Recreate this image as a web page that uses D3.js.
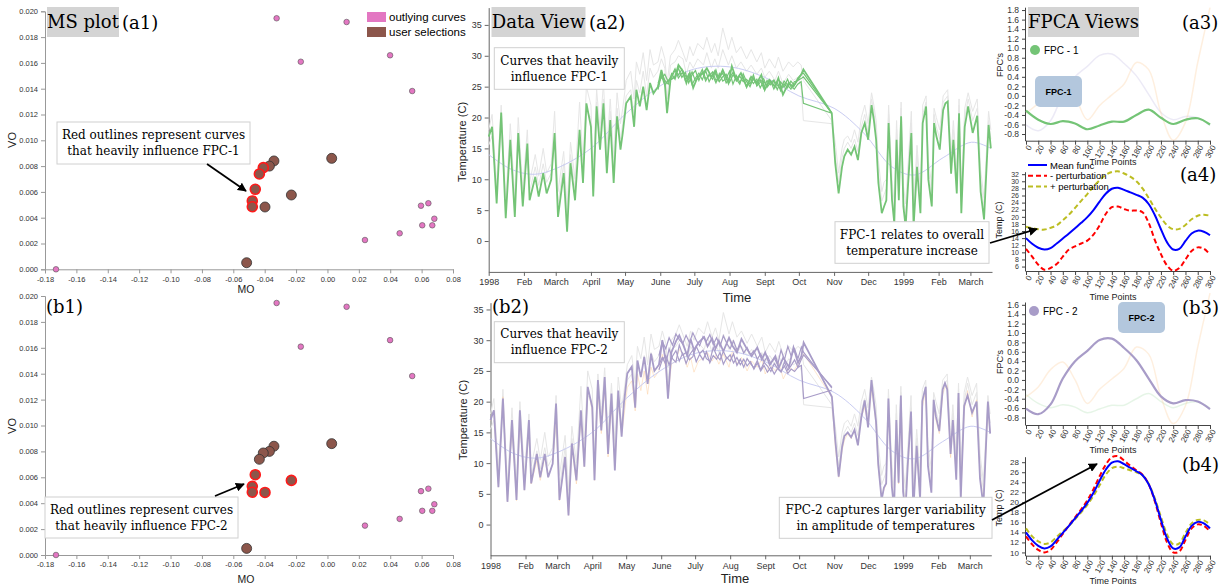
<!DOCTYPE html>
<html>
<head>
<meta charset="utf-8">
<script src="https://cdn.jsdelivr.net/npm/d3@7"></script>
<style>
  body { margin: 0; background: #fff; }
  svg { display: block; }
</style>
</head>
<body>
<div id="container"></div>
<script>
// ---------------- DATA ----------------
// MS plot: outlying curves (pink) and user selections (brown)
var outlyingMO = [-0.173, -0.0324, 0.0122, -0.017, 0.0399, 0.054, 0.0596, 0.0643, 0.0681, 0.0604, 0.0668, 0.046, 0.0239];
var outlyingVO = [0.0000, 0.01946, 0.01917, 0.01609, 0.01659, 0.01382, 0.00493, 0.00512, 0.00392, 0.00341, 0.00341, 0.00279, 0.00227];
var selectedMO = [-0.0341, -0.037, -0.0409, -0.0434, -0.046, -0.0479, -0.0479, -0.0398, -0.023, 0.0027, -0.0515];
var selectedVO = [0.0084, 0.0080, 0.00788, 0.00739, 0.0062, 0.0053, 0.00485, 0.00483, 0.00576, 0.0086, 0.00051];
var fpc1Influential = [2, 3, 4, 5, 6];
var fpc2Influential = [4, 5, 6, 7, 8];

// Data view: day index since 1 Jan 1998
var tempDays = [0, 3, 7, 11, 15, 19, 23, 26, 30, 34, 36, 41, 44, 48, 51, 55, 58, 61, 66, 69,
  72, 76, 80, 83, 86, 90, 92, 95, 98, 101, 104, 107, 110, 113, 116, 118, 121, 125, 128, 130,
  133, 136, 139, 142, 145, 149, 152, 155, 157, 160, 164, 167, 171, 174, 177, 180, 184, 189, 192, 196,
  199, 202, 206, 211, 214, 218, 222, 227, 231, 236, 240, 243, 247, 252, 255, 259, 264, 268, 272, 275,
  277, 302, 305, 308, 311, 313, 316, 319, 322, 325, 328, 331, 334, 337, 339, 341, 343, 346, 348, 350,
  352, 355, 357, 359, 361, 363, 365, 367, 369, 372, 374, 377, 380, 382, 385, 387, 390, 392, 394, 397,
  400, 402, 404, 407, 409, 412, 414, 416, 419, 422, 426, 430, 433, 436, 440, 442];
var fpc1Temps = [16.9, 18.5, 6.1, 20.8, 3.7, 16.4, 3.9, 17.5, 5.6, 15.8, 6.6, 10.4, 7.2, 11.0, 7.7, 9.9, 17.5, 3.9, 11.0, 1.5,
  12.6, 6.6, 18.0, 9.4, 22.3, 18.5, 7.2, 21.8, 14.8, 22.3, 11.0, 19.6, 9.4, 20.2, 14.8, 17.5, 22.3, 23.4, 18.5, 24.5,
  21.8, 25.0, 21.2, 25.6, 23.9, 25.0, 27.7, 25.6, 20.7, 26.1, 26.6, 28.5, 27.5, 25.6, 27.2, 24.8, 26.6, 27.2, 28.0, 26.6,
  27.5, 26.1, 27.7, 25.6, 28.3, 26.1, 27.2, 25.0, 26.6, 25.6, 26.9, 24.5, 26.1, 25.0, 26.4, 23.7, 25.6, 25.0, 26.1, 26.9,
  27.8, 20.7, 12.6, 7.7, 12.0, 13.7, 14.8, 14.0, 15.3, 13.1, 17.5, 19.1, 16.4, 22.0, 19.6, 16.4, 9.4, 4.5, 5.6, 6.6,
  19.1, 6.6, 2.9, 16.4, 6.6, 20.2, 5.6, 2.3, 8.8, 17.5, 2.3, 12.0, 4.5, 19.1, 21.8, 9.9, 5.6, 19.1, 17.0, 14.8,
  21.2, 22.3, 22.6, 10.9, 16.4, 7.7, 20.7, 4.5, 18.5, 21.8, 17.5, 20.3, 8.0, 3.5, 18.8, 15.0];
var fpc2Temps = [17.0, 18.6, 6.1, 20.5, 3.7, 17.0, 4.0, 18.6, 5.6, 17.0, 6.7, 11.5, 7.7, 11.5, 7.7, 9.9, 19.7, 4.0, 11.0, 1.5,
  13.2, 7.2, 18.6, 9.4, 22.4, 19.1, 7.2, 23.5, 15.3, 24.0, 11.5, 21.3, 8.8, 21.8, 14.3, 19.7, 24.6, 25.7, 19.0, 26.7,
  24.0, 27.3, 22.9, 27.8, 25.0, 26.0, 30.0, 26.5, 20.5, 28.0, 29.8, 30.8, 29.0, 27.5, 30.2, 28.4, 29.6, 30.5, 29.0, 30.3,
  28.6, 29.9, 28.2, 30.4, 29.1, 28.0, 30.2, 28.5, 27.4, 28.8, 26.9, 28.0, 26.0, 27.4, 25.5, 27.2, 25.6, 28.8, 26.3, 27.4,
  29.6, 20.8, 13.7, 7.8, 12.6, 14.4, 15.0, 14.2, 15.4, 12.9, 17.4, 20.2, 15.8, 23.5, 20.0, 16.8, 9.8, 4.0, 6.0, 6.7,
  20.5, 6.2, 2.5, 17.0, 6.8, 21.0, 5.3, 2.0, 9.4, 18.4, 2.0, 12.8, 4.1, 20.1, 22.4, 9.5, 5.2, 20.3, 17.6, 15.2,
  22.0, 23.0, 22.0, 11.5, 17.0, 7.3, 21.4, 4.2, 19.3, 21.0, 18.2, 20.0, 7.5, 3.0, 20.0, 14.8];
var grayTemps1 = [18.0, 20.5, 9.0, 22.0, 6.5, 19.0, 7.0, 20.0, 8.5, 18.0, 9.5, 14.0, 10.5, 15.0, 11.0, 12.5, 21.0, 8.0, 14.5, 5.5,
  16.0, 10.0, 22.5, 13.0, 25.0, 22.0, 11.0, 24.5, 18.0, 25.5, 15.0, 23.0, 13.5, 24.0, 19.0, 21.5, 26.0, 27.5, 23.0, 29.0,
  27.0, 30.5, 26.0, 31.0, 28.5, 29.0, 31.5, 29.5, 25.5, 30.0, 31.0, 32.5, 30.5, 29.0, 31.5, 30.0, 32.0, 31.0, 33.0, 30.5,
  32.0, 30.0, 34.5, 31.0, 33.0, 30.5, 31.5, 29.5, 31.0, 29.0, 30.5, 28.0, 29.5, 28.0, 29.8, 27.5, 29.0, 28.2, 29.0, 28.5,
  26.0, 19.5, 16.0, 11.0, 15.0, 16.5, 17.0, 16.0, 18.0, 16.0, 20.0, 22.0, 19.0, 24.0, 22.0, 19.5, 13.0, 8.0, 9.5, 10.0,
  22.0, 10.0, 6.0, 19.5, 10.0, 22.5, 9.0, 6.0, 12.0, 21.0, 6.0, 15.5, 8.0, 22.0, 23.5, 13.0, 9.0, 21.5, 20.0, 18.0,
  23.5, 24.0, 24.5, 14.0, 19.5, 11.0, 23.0, 8.0, 21.5, 24.0, 21.0, 23.0, 11.5, 7.0, 21.0, 18.0];
var grayTemps2 = [15.5, 17.0, 8.0, 19.0, 5.5, 15.0, 6.0, 16.5, 7.0, 14.5, 8.0, 12.0, 9.0, 12.5, 9.5, 11.0, 16.0, 6.0, 12.5, 4.0,
  14.0, 8.5, 17.0, 11.0, 21.0, 20.0, 9.5, 22.5, 16.5, 23.0, 13.0, 21.0, 11.5, 21.5, 16.5, 19.0, 23.5, 24.5, 20.5, 26.0,
  24.0, 27.5, 23.5, 28.0, 26.5, 27.5, 29.5, 28.0, 23.0, 28.5, 29.0, 30.0, 29.5, 27.0, 29.0, 28.0, 29.5, 28.5, 30.5, 28.0,
  29.5, 28.0, 31.0, 28.5, 30.0, 28.0, 29.0, 27.5, 28.5, 27.0, 28.0, 26.5, 27.5, 26.0, 27.5, 25.5, 27.0, 26.0, 26.5, 25.0,
  19.5, 19.0, 14.0, 9.5, 13.5, 15.0, 16.0, 15.0, 16.5, 14.5, 18.5, 20.5, 17.5, 23.0, 21.0, 18.0, 11.0, 6.5, 7.5, 8.5,
  20.5, 8.0, 4.5, 18.0, 8.5, 21.5, 7.0, 4.0, 10.5, 19.0, 4.0, 14.0, 6.5, 20.5, 22.5, 11.5, 7.5, 20.5, 18.5, 16.5,
  22.5, 23.0, 23.5, 12.5, 18.0, 9.5, 22.0, 6.5, 20.0, 23.0, 19.5, 21.5, 10.0, 5.5, 19.5, 16.5];

// summer stretch where the highlighted curves separate
var summerDays = d3.range(149, 276, 3).concat([277, 302]);
var fpc1SummerA = [24.5, 26.8, 25.2, 26.0, 26.5, 27.6, 26.9, 27.8, 26.0, 27.0, 25.3, 26.4, 27.2, 26.1, 27.6, 25.8, 26.9, 25.6, 27.1, 25.9,
  26.3, 27.5, 25.4, 26.8, 25.7, 26.6, 24.9, 26.3, 25.5, 26.2, 24.8, 25.9, 25.1, 26.0, 24.6, 25.7, 24.3, 25.5, 24.8, 25.9,
  25.2, 26.4, 27.0, 27.2, 20.7];
var fpc1SummerB = [25.0, 27.2, 26.0, 25.4, 27.1, 26.2, 28.0, 26.5, 27.3, 25.6, 26.9, 27.6, 26.0, 27.4, 25.9, 27.0, 26.2, 27.7, 25.8, 26.6,
  27.0, 25.7, 26.9, 26.2, 25.4, 27.1, 25.8, 25.0, 26.4, 25.3, 26.1, 24.7, 26.0, 25.3, 25.9, 24.5, 25.8, 24.9, 26.2, 25.0,
  24.6, 25.4, 25.8, 22.3, 20.7];
var fpc1SummerC = [25.6, 26.4, 27.0, 25.8, 26.8, 27.9, 26.4, 27.2, 26.8, 26.1, 27.4, 25.9, 26.6, 27.8, 26.3, 26.7, 27.4, 26.0, 26.5, 27.2,
  25.6, 26.4, 27.3, 25.9, 26.7, 25.8, 26.2, 25.4, 26.9, 25.1, 25.7, 26.3, 24.9, 25.6, 26.1, 25.2, 24.7, 25.9, 25.3, 24.6,
  25.8, 26.0, 26.3, 26.6, 20.7];
var fpc2SummerA = [25.2, 26.8, 27.5, 26.0, 27.4, 28.3, 26.6, 27.9, 26.2, 27.6, 28.4, 26.5, 27.7, 26.8, 28.1, 26.3, 27.5, 26.9, 28.0, 26.1,
  27.2, 26.6, 27.8, 25.9, 26.9, 25.6, 27.0, 26.2, 25.5, 26.7, 25.2, 26.4, 25.8, 24.9, 26.2, 25.4, 24.8, 26.5, 25.1, 25.9,
  26.8, 25.6, 26.9, 27.6, 22.4];
var fpc2SummerB = [27.5, 29.8, 28.6, 30.4, 29.2, 31.0, 30.1, 29.4, 30.8, 29.6, 31.2, 30.0, 29.1, 30.6, 29.8, 30.9, 29.3, 30.4, 29.0, 30.7,
  29.5, 28.6, 29.9, 28.4, 29.2, 27.9, 28.8, 27.6, 28.3, 26.9, 27.8, 26.5, 27.4, 26.2, 27.1, 26.0, 28.4, 26.8, 29.0, 27.4,
  28.6, 27.0, 28.9, 28.0, 22.2];
var fpc2SummerC = [26.0, 27.2, 26.1, 28.6, 27.0, 26.4, 29.2, 27.6, 28.0, 26.8, 27.3, 29.0, 27.8, 28.4, 27.0, 26.6, 28.8, 27.5, 26.8, 28.2,
  27.0, 27.6, 26.3, 27.2, 26.0, 26.9, 25.8, 26.5, 25.3, 26.3, 25.0, 25.9, 24.8, 25.6, 24.5, 25.4, 24.9, 25.8, 24.6, 25.3,
  24.9, 25.6, 25.9, 20.5, 21.9];

// smooth mean curve of the data view
var meanDays = [0, 20, 40, 60, 90, 120, 150, 180, 212, 243, 273, 304, 330, 355, 375, 400, 425, 442];
var meanTemps = [14.0, 11.6, 10.8, 11.8, 15.0, 20.5, 25.0, 27.8, 28.2, 26.5, 23.5, 21.5, 17.5, 12.0, 10.7, 13.5, 16.0, 15.0];

var monthTicks = [0, 31, 59, 90, 120, 151, 181, 212, 243, 273, 304, 334, 365, 396, 424];
var monthLabels = ["1998", "Feb", "March", "April", "May", "June", "July", "Aug", "Sept", "Oct", "Nov", "Dec", "1999", "Feb", "March"];

// FPCA: eigenfunctions over time points
var fpcT = [0, 20, 40, 60, 80, 100, 120, 140, 160, 180, 200, 220, 240, 260, 280, 300];
var fpc1 = [-0.31, -0.50, -0.59, -0.53, -0.58, -0.70, -0.62, -0.54, -0.54, -0.40, -0.29, -0.46, -0.59, -0.50, -0.47, -0.60];
var fpc2 = [-0.61, -0.73, -0.52, 0.03, 0.40, 0.62, 0.85, 0.88, 0.68, 0.42, 0.03, -0.35, -0.50, -0.43, -0.46, -0.62];
var fpc3 = [-0.36, -0.15, 0.22, 0.38, 0.0, -0.50, -0.20, 0.02, 0.25, 0.70, 0.55, -0.36, -0.93, -0.55, 0.70, 1.85];

// FPCA: mean function and perturbations
var pertT = d3.range(0, 301, 10);
var meanFunc = [14.0, 12.4, 11.3, 10.8, 11.2, 12.5, 13.9, 15.3, 16.8, 18.3, 19.9, 21.9, 24.3, 26.5, 27.9, 28.2,
  27.6, 26.9, 26.2, 25.4, 23.6, 20.5, 16.5, 12.8, 10.8, 11.0, 13.2, 15.3, 16.1, 15.8, 14.8];
var fpc1Minus = [11.0, 8.8, 6.5, 5.1, 5.6, 6.7, 8.8, 10.8, 11.7, 12.5, 13.3, 15.0, 17.6, 20.8, 22.7, 22.9,
  22.2, 21.7, 21.8, 21.3, 18.3, 13.5, 9.5, 6.3, 4.8, 5.6, 8.0, 10.4, 11.4, 11.0, 9.4];
var fpc1Plus = [17.2, 16.8, 16.5, 16.4, 16.9, 17.6, 19.0, 20.6, 22.5, 24.5, 26.4, 28.5, 30.3, 31.8, 32.6, 32.8,
  32.2, 31.3, 30.0, 28.0, 25.3, 22.4, 19.8, 17.6, 16.5, 16.6, 17.7, 19.3, 20.3, 20.6, 20.3];
var fpc2Minus = [13.2, 11.6, 10.5, 10.0, 10.5, 12.0, 13.7, 15.4, 17.0, 18.6, 20.4, 22.6, 25.2, 27.5, 29.0, 29.2,
  28.3, 27.3, 26.4, 25.5, 23.6, 20.2, 15.9, 12.0, 10.0, 10.2, 12.5, 14.8, 15.6, 15.3, 14.2];
var fpc2Plus = [14.8, 13.2, 12.2, 11.7, 12.0, 13.1, 14.2, 15.3, 16.6, 18.0, 19.5, 21.3, 23.4, 25.5, 26.8, 27.1,
  26.8, 26.4, 26.0, 25.4, 23.7, 20.8, 17.1, 13.6, 11.6, 11.8, 13.9, 15.8, 16.5, 16.4, 15.6];

// ---------------- COLOURS / FONTS ----------------
var pink = "#e377c2", brown = "#8c564b";
var green = "#74c476", purple = "#a89cc8", orange = "#fdd0a2";
var serif = "'DejaVu Serif', serif";
var sans = "'Liberation Sans', Arial, sans-serif";

var svg = d3.select("div#container")
    .append("svg")
    .attr("width", 1225)
    .attr("height", 588);

svg.append("defs").append("marker")
    .attr("id", "arrow")
    .attr("viewBox", "0 0 10 10")
    .attr("refX", 9).attr("refY", 5)
    .attr("markerWidth", 5).attr("markerHeight", 5)
    .attr("orient", "auto")
    .append("path")
    .attr("d", "M0,0 L10,5 L0,10 z")
    .attr("fill", "#000");

// ---------------- helpers ----------------
function styleAxis(g, color, size) {
    g.selectAll("path, line").attr("stroke", color);
    g.selectAll("text").attr("fill", "#333").style("font-size", size + "px").style("font-family", sans);
}

function titleBox(x, y, w, h, label) {
    svg.append("rect").attr("x", x).attr("y", y).attr("width", w).attr("height", h).attr("fill", "#d4d4d4");
    svg.append("text").attr("x", x + w / 2).attr("y", y + h / 2 + 6)
        .attr("text-anchor", "middle").style("font-family", serif).style("font-size", "18px")
        .text(label);
}

function panelTag(x, y, label) {
    svg.append("text").attr("x", x).attr("y", y)
        .style("font-family", serif).style("font-size", "18px").text(label);
}

function noteBox(x, y, w, h, lines) {
    svg.append("rect").attr("x", x).attr("y", y).attr("width", w).attr("height", h)
        .attr("fill", "#fff").attr("stroke", "#d0d0d0").attr("stroke-width", 1);
    lines.forEach(function (t, i) {
        svg.append("text").attr("x", x + w / 2).attr("y", y + h / 2 - 4 + i * 16)
            .attr("text-anchor", "middle").style("font-family", serif).style("font-size", "12px")
            .text(t);
    });
}

function arrow(x1, y1, x2, y2) {
    svg.append("line").attr("x1", x1).attr("y1", y1).attr("x2", x2).attr("y2", y2)
        .attr("stroke", "#000").attr("stroke-width", 1.8).attr("marker-end", "url(#arrow)");
}

function axisLabel(x, y, text, size, rotate) {
    svg.append("text").attr("transform", "translate(" + x + "," + y + ")" + (rotate ? " rotate(-90)" : ""))
        .attr("text-anchor", "middle").style("font-family", sans).style("font-size", size + "px")
        .attr("fill", "#222").text(text);
}

// ---------------- MS PLOTS ----------------
function msPlot(yRange, reds) {
    var x = d3.scaleLinear().domain([-0.18, 0.08]).range([45, 453]);
    var y = d3.scaleLinear().domain([0, 0.02]).range(yRange);

    var gx = svg.append("g").attr("transform", "translate(0," + yRange[0] + ")")
        .call(d3.axisBottom(x).tickValues(d3.range(-0.18, 0.081, 0.02)).tickFormat(d => d.toFixed(2)).tickSize(4));
    styleAxis(gx, "#999", 7.5);
    var gy = svg.append("g").attr("transform", "translate(45,0)")
        .call(d3.axisLeft(y).tickValues(d3.range(0, 0.0201, 0.002)).tickFormat(d => d.toFixed(3)).tickSize(4));
    styleAxis(gy, "#999", 7.5);

    svg.append("g").selectAll("circle")
        .data(outlyingMO.map((m, i) => [m, outlyingVO[i]]))
        .enter().append("circle")
        .attr("cx", d => x(d[0])).attr("cy", d => y(d[1])).attr("r", 2.8)
        .attr("fill", pink).attr("stroke", "#555").attr("stroke-width", 0.6);

    var sel = selectedMO.map((m, i) => ({ mo: m, vo: selectedVO[i], red: reds.indexOf(i) >= 0 }));
    sel.sort((a, b) => a.red - b.red);
    svg.append("g").selectAll("circle")
        .data(sel)
        .enter().append("circle")
        .attr("cx", d => x(d.mo)).attr("cy", d => y(d.vo)).attr("r", 5)
        .attr("fill", brown)
        .attr("stroke", d => d.red ? "#ff1a1a" : "#333")
        .attr("stroke-width", d => d.red ? 1.6 : 0.8);
}

msPlot([269.3, 11.3], fpc1Influential);
msPlot([555, 296], fpc2Influential);

titleBox(47, 7, 72, 30, "MS plot");
panelTag(122, 29, "(a1)");
panelTag(46, 313, "(b1)");

// legend
svg.append("rect").attr("x", 367).attr("y", 12).attr("width", 19).attr("height", 10).attr("fill", pink);
svg.append("rect").attr("x", 367).attr("y", 27).attr("width", 19).attr("height", 10).attr("fill", brown);
svg.append("text").attr("x", 389).attr("y", 21).style("font-family", sans).style("font-size", "11.5px").text("outlying curves");
svg.append("text").attr("x", 389).attr("y", 36).style("font-family", sans).style("font-size", "11.5px").text("user selections");

axisLabel(16, 140, "VO", 11, true);
axisLabel(16, 426, "VO", 11, true);
axisLabel(246, 293, "MO", 10.5, false);
axisLabel(246, 583, "MO", 10.5, false);

noteBox(57, 122, 193, 42, ["Red outlines represent curves", "that heavily influence FPC-1"]);
arrow(207, 164, 246, 191);
noteBox(45, 497, 193, 41, ["Red outlines represent curves", "that heavily influence FPC-2"]);
arrow(215, 496, 244, 484);

// ---------------- DATA VIEWS ----------------
function dataView(xRange, yRange, yTop, mainTemps, mainColor, summers, faintTemps) {
    var x = d3.scaleLinear().domain([0, 443]).range(xRange);
    var y = d3.scaleLinear().domain([-5, yTop]).range(yRange);

    var gx = svg.append("g").attr("transform", "translate(0," + yRange[0] + ")")
        .call(d3.axisBottom(x).tickValues(monthTicks).tickFormat((d, i) => monthLabels[i]).tickSize(4).tickSizeOuter(0));
    styleAxis(gx, "#666", 9);
    var gy = svg.append("g").attr("transform", "translate(" + xRange[0] + ",0)")
        .call(d3.axisLeft(y).tickValues(d3.range(0, 36, 5)).tickSize(4).tickSizeOuter(0));
    styleAxis(gy, "#666", 9);

    var line = d3.line().x(d => x(d[0])).y(d => y(d[1]));
    var pair = (days, vals) => days.map((d, i) => [d, vals[i]]);

    [grayTemps1, grayTemps2].forEach(function (t) {
        svg.append("path").datum(pair(tempDays, t)).attr("d", line)
            .attr("fill", "none").attr("stroke", "#e6e6e6").attr("stroke-width", 1);
    });
    if (faintTemps) {
        svg.append("path").datum(pair(tempDays, faintTemps)).attr("d", line)
            .attr("fill", "none").attr("stroke", orange).attr("stroke-opacity", 0.5).attr("stroke-width", 1);
    }
    svg.append("path").datum(pair(meanDays, meanTemps))
        .attr("d", d3.line().x(d => x(d[0])).y(d => y(d[1])).curve(d3.curveCatmullRom))
        .attr("fill", "none").attr("stroke", "#c9ccf2").attr("stroke-width", 1);

    summers.forEach(function (s) {
        svg.append("path").datum(pair(summerDays, s)).attr("d", line)
            .attr("fill", "none").attr("stroke", mainColor).attr("stroke-width", 1.2);
    });
    svg.append("path").datum(pair(tempDays, mainTemps)).attr("d", line)
        .attr("fill", "none").attr("stroke", mainColor).attr("stroke-width", 1.8);
}

dataView([488.7, 992], [271.9, 7.6], 37.8, fpc1Temps, green, [fpc1SummerA, fpc1SummerB, fpc1SummerC], null);
dataView([490.5, 991.3], [555.3, 302.7], 36.1, fpc2Temps, purple, [fpc2SummerA, fpc2SummerB, fpc2SummerC], fpc1Temps);

titleBox(491.5, 7, 94, 30, "Data View");
panelTag(589, 29, "(a2)");
panelTag(492, 313, "(b2)");
axisLabel(466, 142, "Temperature (C)", 11, true);
axisLabel(467, 420, "Temperature (C)", 11, true);
axisLabel(737, 302, "Time", 13, false);
axisLabel(735, 583, "Time", 13, false);

noteBox(494.3, 47.7, 130, 41.6, ["Curves that heavily", "influence FPC-1"]);
noteBox(494.3, 321.7, 130, 41, ["Curves that heavily", "influence FPC-2"]);
noteBox(835, 221.7, 154, 41.6, ["FPC-1 relates to overall", "temperature increase"]);
noteBox(779.3, 497.3, 212.7, 41, ["FPC-2 captures larger variability", "in amplitude of  temperatures"]);

// ---------------- FPCA VIEWS ----------------
var xFP = d3.scaleLinear().domain([0, 300]).range([1026, 1210]);

function fpAxes(y, bottom, yTicks, fmt, ySize) {
    var gx = svg.append("g").attr("transform", "translate(0," + bottom + ")")
        .call(d3.axisBottom(xFP).tickValues(d3.range(0, 301, 20)).tickSize(4).tickSizeOuter(0));
    styleAxis(gx, "#444", 8);
    gx.selectAll("text").attr("x", -3).attr("y", 5).attr("dy", "0.35em")
        .attr("transform", "rotate(-62)").style("text-anchor", "end");
    var gy = svg.append("g").attr("transform", "translate(1025,0)")
        .call(d3.axisLeft(y).tickValues(yTicks).tickFormat(fmt).tickSize(3).tickSizeOuter(0));
    styleAxis(gy, "#444", ySize);
}

function fpcView(yDom, yRange, main, mainColor, faint) {
    var y = d3.scaleLinear().domain(yDom).range(yRange);
    fpAxes(y, yRange[0], d3.range(-0.8, yDom[1] - 0.05, 0.2), d => d.toFixed(1), 8.5);
    var line = d3.line().x((d, i) => xFP(fpcT[i])).y(d => y(d)).curve(d3.curveCatmullRom);
    faint.forEach(function (f) {
        svg.append("path").datum(f[0]).attr("d", line).attr("fill", "none")
            .attr("stroke", f[1]).attr("stroke-width", 1.5).attr("stroke-opacity", 0.35);
    });
    svg.append("path").datum(main).attr("d", line).attr("fill", "none")
        .attr("stroke", mainColor).attr("stroke-width", 2.2);
}

fpcView([-0.94, 1.86], [140.7, 7.2], fpc1, green, [[fpc2, "#c9c4e6"], [fpc3, orange]]);
fpcView([-0.96, 1.66], [425, 302], fpc2, purple, [[fpc1, "#b8e3b9"], [fpc3, orange]]);

function pertView(yDom, yRange, yTicks, minus, plus, ySize) {
    var y = d3.scaleLinear().domain(yDom).range(yRange);
    fpAxes(y, yRange[0], yTicks, d => d, ySize);
    var line = d3.line().x((d, i) => xFP(pertT[i])).y(d => y(d)).curve(d3.curveCatmullRom);
    svg.append("path").datum(plus).attr("d", line).attr("fill", "none")
        .attr("stroke", "#bcbd22").attr("stroke-width", 2).attr("stroke-dasharray", "5,3");
    svg.append("path").datum(minus).attr("d", line).attr("fill", "none")
        .attr("stroke", "#ff0000").attr("stroke-width", 2).attr("stroke-dasharray", "5,3");
    svg.append("path").datum(meanFunc).attr("d", line).attr("fill", "none")
        .attr("stroke", "#0000ff").attr("stroke-width", 2);
}

pertView([4.75, 32.7], [271, 171.7], d3.range(6, 33, 2), fpc1Minus, fpc1Plus, 7);
pertView([9.35, 29.1], [555.7, 456.7], d3.range(10, 29, 2), fpc2Minus, fpc2Plus, 8);

// titles and tags
titleBox(1028, 7, 111, 30, "FPCA Views");
panelTag(1182, 29, "(a3)");
panelTag(1180, 181, "(a4)");
panelTag(1182, 314, "(b3)");
panelTag(1182, 471, "(b4)");

axisLabel(1003, 65, "FPC's", 9, true);
axisLabel(1003, 362, "FPC's", 9, true);
axisLabel(1002, 220, "Temp (C)", 9, true);
axisLabel(1002, 508, "Temp (C)", 9, true);
axisLabel(1113, 165, "Time Points", 9, false);
axisLabel(1113, 300, "Time Points", 9, false);
axisLabel(1113, 453, "Time Points", 9, false);
axisLabel(1113, 584, "Time Points", 9, false);

// FPC legends
svg.append("circle").attr("cx", 1035).attr("cy", 50).attr("r", 5).attr("fill", green);
svg.append("text").attr("x", 1044).attr("y", 53.5).style("font-family", sans).style("font-size", "10px").text("FPC - 1");
svg.append("circle").attr("cx", 1034).attr("cy", 311).attr("r", 5).attr("fill", purple);
svg.append("text").attr("x", 1043).attr("y", 314.5).style("font-family", sans).style("font-size", "10px").text("FPC - 2");

function fpcTag(x, y, label) {
    svg.append("rect").attr("x", x).attr("y", y).attr("width", 47).attr("height", 31).attr("rx", 5)
        .attr("fill", "#b3c7dd");
    svg.append("text").attr("x", x + 23.5).attr("y", y + 19).attr("text-anchor", "middle")
        .style("font-family", sans).style("font-size", "9px").style("font-weight", "bold").text(label);
}
fpcTag(1035, 76, "FPC-1");
fpcTag(1118, 302, "FPC-2");

// perturbation legend
var legendItems = [["Mean func", "#0000ff", null], ["- perturbation", "#ff0000", "5,3"], ["+ perturbation", "#bcbd22", "5,3"]];
legendItems.forEach(function (d, i) {
    var ly = 165 + i * 10.8;
    svg.append("line").attr("x1", 1028).attr("x2", 1047).attr("y1", ly).attr("y2", ly)
        .attr("stroke", d[1]).attr("stroke-width", 2).attr("stroke-dasharray", d[2]);
    svg.append("text").attr("x", 1050).attr("y", ly + 3.5).style("font-family", sans)
        .style("font-size", "9.5px").text(d[0]);
});

// arrows from data view notes to perturbation plots
arrow(990, 243, 1037, 229);
arrow(992, 520, 1097, 464);
</script>
</body>
</html>
